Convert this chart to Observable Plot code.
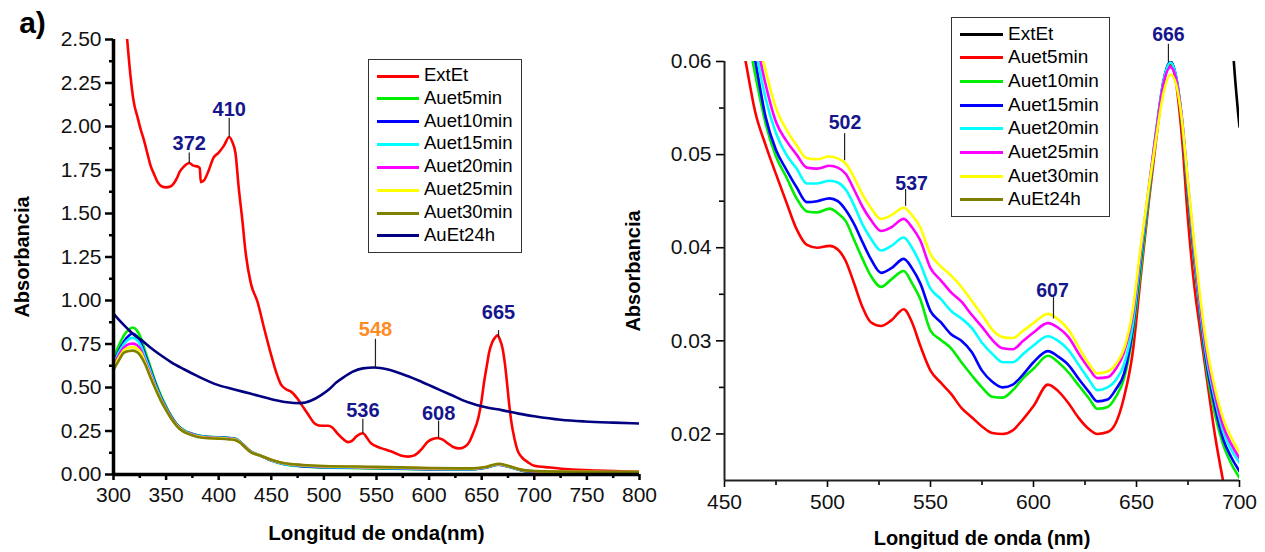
<!DOCTYPE html>
<html>
<head>
<meta charset="utf-8">
<script src="https://cdn.jsdelivr.net/npm/d3@7"></script>
<script src="https://cdn.jsdelivr.net/npm/@observablehq/plot@0.6"></script>
<style>
  body { margin: 0; background: #fff; }
  #wrap { position: relative; width: 1265px; height: 552px; overflow: hidden; font-family: "Liberation Sans", Arial, sans-serif; }
  .panel { position: absolute; top: 0; }
  .legend { position: absolute; border: 1px solid #333; background: #fff; box-sizing: border-box; }
  .legend .row { position: absolute; left: 0; height: 0; }
  .legend .sw { position: absolute; height: 3px; margin-top: -1.5px; }
  .legend .lb { position: absolute; white-space: nowrap; line-height: 1; color: #000; }
</style>
</head>
<body>
<div id="wrap">
  <div id="left" class="panel" style="left:0;width:650px;"></div>
  <div id="right" class="panel" style="left:640px;width:625px;"></div>
</div>
<script>
// ---------------- LEFT PANEL DATA ----------------
const namesL = ["ExtEt", "Auet5min", "Auet10min", "Auet15min", "Auet20min", "Auet25min", "Auet30min", "AuEt24h"];
const colorsL = ["#ff0000", "#00ee00", "#0000ff", "#00ffff", "#ff00ff", "#ffff00", "#808000", "#000080"];

const extEtL = [[309,2.8],[313,2.5],[316,2.3],[319,2.15],[323,2.05],[326,1.98],[329,1.92],[332,1.85],[335,1.78],[339,1.72],[342,1.68],[346,1.655],[350,1.65],[354,1.655],[357,1.67],[360,1.70],[363,1.74],[367,1.77],[372,1.79],[376,1.775],[380,1.77],[382,1.76],[383,1.68],[386,1.69],[390,1.74],[395,1.82],[400,1.85],[405,1.89],[410,1.94],[413,1.91],[416,1.845],[419,1.65],[422.5,1.46],[425.7,1.27],[430.5,1.10],[437,0.99],[443,0.845],[449.5,0.695],[454,0.6],[459,0.52],[464,0.49],[469,0.475],[475,0.435],[480,0.39],[484.5,0.35],[492,0.29],[498,0.28],[504,0.28],[508,0.27],[513,0.235],[518,0.205],[523,0.186],[527,0.195],[531,0.22],[537,0.237],[541,0.21],[544,0.185],[548,0.167],[555,0.15],[561,0.138],[567,0.125],[573,0.109],[580,0.103],[586,0.11],[592,0.14],[599,0.19],[604,0.205],[608,0.21],[613,0.2],[618,0.178],[623,0.158],[629,0.15],[634,0.16],[638,0.185],[642,0.24],[647,0.33],[650,0.43],[652,0.52],[655,0.63],[657,0.70],[660,0.76],[663,0.79],[665,0.80],[667,0.78],[670,0.72],[672,0.64],[674,0.53],[676,0.41],[678,0.31],[681,0.21],[684,0.14],[688,0.10],[694,0.07],[700,0.05],[715,0.04],[732,0.03],[760,0.022],[800,0.015]];

const wlL = [300,305,310,315,318,322,326,330,335,340,345,350,355,360,365,370,380,390,400,410,416,420,425,430,440,450,460,480,500,550,600,640,655,666,675,690,700,750,800];
const auet5L  = [0.67,0.74,0.80,0.835,0.845,0.83,0.785,0.71,0.62,0.53,0.455,0.39,0.335,0.29,0.262,0.245,0.225,0.216,0.214,0.21,0.205,0.19,0.162,0.135,0.108,0.08,0.062,0.046,0.04,0.035,0.03,0.03,0.04,0.056,0.045,0.02,0.015,0.011,0.01];
const auet10L = [0.64,0.71,0.765,0.80,0.81,0.795,0.755,0.69,0.605,0.52,0.445,0.385,0.332,0.288,0.26,0.243,0.224,0.215,0.213,0.209,0.204,0.189,0.161,0.134,0.108,0.081,0.063,0.048,0.042,0.037,0.031,0.031,0.041,0.057,0.046,0.021,0.016,0.012,0.011];
const auet15L = [0.63,0.70,0.75,0.78,0.785,0.775,0.74,0.675,0.595,0.51,0.44,0.38,0.328,0.286,0.258,0.242,0.222,0.214,0.212,0.208,0.203,0.188,0.16,0.133,0.108,0.082,0.064,0.05,0.044,0.039,0.033,0.032,0.042,0.058,0.047,0.022,0.017,0.013,0.012];
const auet20L = [0.62,0.685,0.73,0.75,0.752,0.745,0.715,0.655,0.58,0.5,0.432,0.375,0.325,0.284,0.256,0.24,0.22,0.212,0.21,0.206,0.201,0.186,0.159,0.132,0.108,0.083,0.066,0.052,0.046,0.041,0.035,0.033,0.043,0.059,0.048,0.023,0.018,0.014,0.013];
const auet25L = [0.61,0.67,0.715,0.73,0.732,0.725,0.7,0.645,0.57,0.495,0.428,0.372,0.322,0.282,0.254,0.238,0.218,0.21,0.208,0.204,0.199,0.185,0.158,0.131,0.108,0.084,0.067,0.053,0.047,0.042,0.036,0.034,0.044,0.06,0.049,0.024,0.019,0.015,0.014];
const auet30L = [0.60,0.655,0.70,0.71,0.712,0.705,0.68,0.635,0.56,0.49,0.425,0.37,0.32,0.28,0.252,0.236,0.216,0.208,0.206,0.202,0.197,0.184,0.157,0.13,0.108,0.085,0.068,0.055,0.049,0.044,0.037,0.035,0.045,0.062,0.05,0.025,0.02,0.016,0.015];

const auEt24hL = [[300,0.925],[305,0.89],[313,0.84],[320,0.80],[326,0.775],[335,0.73],[345,0.685],[355,0.645],[367,0.605],[380,0.565],[399,0.515],[414,0.49],[430,0.465],[452,0.43],[465,0.415],[478,0.41],[488,0.425],[497,0.455],[505,0.49],[512,0.53],[519,0.56],[527,0.59],[537,0.61],[548,0.615],[560,0.605],[573,0.58],[590,0.54],[605,0.50],[620,0.46],[637,0.415],[655,0.385],[669,0.37],[685,0.35],[700,0.335],[725,0.315],[748,0.305],[775,0.298],[800,0.293]];

const xTicksL = [300,350,400,450,500,550,600,650,700,750,800];
const xMinorL = [325,375,425,475,525,575,625,675,725,775];
const yTicksL = [0,0.25,0.5,0.75,1,1.25,1.5,1.75,2,2.25,2.5];
const yMinorL = [0.125,0.375,0.625,0.875,1.125,1.375,1.625,1.875,2.125,2.375];

const peaksL = [
  {label:"372", series:"ExtEt",   x:372, y:1.79,  top:1.85, ty:1.90},
  {label:"410", series:"ExtEt",   x:410, y:1.94,  top:2.05, ty:2.10},
  {label:"548", series:"AuEt24h", x:549, y:0.615, top:0.78, ty:0.83},
  {label:"536", series:"ExtEt",   x:537, y:0.237, top:0.32, ty:0.37},
  {label:"608", series:"ExtEt",   x:609, y:0.212, top:0.31, ty:0.35},
  {label:"665", series:"ExtEt",   x:666, y:0.79,  top:0.83, ty:0.93}
];

// ---------------- RIGHT PANEL DATA ----------------
const namesR = ["ExtEt", "Auet5min", "Auet10min", "Auet15min", "Auet20min", "Auet25min", "Auet30min", "AuEt24h"];
const colorsR = ["#000000", "#ff0000", "#00ee00", "#0000ff", "#00ffff", "#ff00ff", "#ffff00", "#808000"];

const wlR = [455,460,465,470,475,480,485,490,495,501,505,509,513,517,521,526,531,537,541,545,550,555,560,565,570,575,580,585,590,595,600,607,612,617,622,627,631,636,640,644,648,652,656,660,663,666.5,669,672,675,678,681,684,688,692,696,700];
const auet5R  = [0.066,0.0603,0.0545,0.0510,0.0479,0.0449,0.0420,0.0403,0.0400,0.0402,0.0398,0.0385,0.0361,0.0336,0.0320,0.0316,0.0322,0.0334,0.0320,0.0295,0.0268,0.0255,0.0243,0.0228,0.0218,0.0208,0.0201,0.0200,0.0204,0.0216,0.0230,0.0253,0.0246,0.0233,0.0217,0.0205,0.0200,0.0202,0.0212,0.0240,0.0285,0.0368,0.0450,0.0525,0.0575,0.0597,0.0580,0.0520,0.0430,0.0360,0.0310,0.0262,0.0200,0.0150,0.0105,0.0080];
const auet10R = [0.070,0.0645,0.0585,0.0533,0.0498,0.0476,0.0453,0.0439,0.0438,0.0442,0.0437,0.0428,0.0408,0.0388,0.0370,0.0358,0.0366,0.0375,0.0362,0.0345,0.0311,0.0301,0.0292,0.0277,0.0263,0.0250,0.0240,0.0239,0.0247,0.0260,0.0270,0.0284,0.0277,0.0266,0.0252,0.0238,0.0227,0.0229,0.0240,0.0260,0.0305,0.0375,0.0455,0.0530,0.0577,0.0600,0.0585,0.0535,0.0455,0.0385,0.0325,0.0270,0.0222,0.0189,0.0168,0.0153];
const auet15R = [0.072,0.066,0.0600,0.0540,0.0505,0.0484,0.0465,0.0449,0.0450,0.0453,0.0450,0.0440,0.0425,0.0406,0.0388,0.0373,0.0378,0.0388,0.0378,0.0362,0.0332,0.0320,0.0307,0.0300,0.0288,0.0268,0.0256,0.0250,0.0253,0.0264,0.0277,0.0289,0.0283,0.0274,0.0259,0.0245,0.0235,0.0237,0.0248,0.0265,0.0310,0.0385,0.0460,0.0532,0.0578,0.0600,0.0586,0.0538,0.0460,0.0390,0.0328,0.0276,0.0230,0.0195,0.0175,0.0160];
const auet20R = [0.074,0.068,0.0615,0.0560,0.0523,0.0500,0.0485,0.0469,0.0469,0.0472,0.0470,0.0462,0.0445,0.0425,0.0410,0.0397,0.0402,0.0411,0.0400,0.0383,0.0356,0.0345,0.0332,0.0324,0.0314,0.0298,0.0286,0.0277,0.0277,0.0286,0.0295,0.0305,0.0300,0.0290,0.0274,0.0258,0.0247,0.0250,0.0258,0.0275,0.0315,0.0390,0.0462,0.0534,0.0578,0.0599,0.0586,0.0540,0.0465,0.0395,0.0332,0.0282,0.0238,0.0203,0.0183,0.0169];
const auet25R = [0.075,0.069,0.0628,0.0575,0.0535,0.0515,0.0500,0.0486,0.0485,0.0488,0.0486,0.0479,0.0462,0.0444,0.0430,0.0418,0.0422,0.0431,0.0422,0.0408,0.0378,0.0365,0.0352,0.0342,0.0328,0.0315,0.0301,0.0292,0.0291,0.0300,0.0309,0.0319,0.0314,0.0304,0.0286,0.0270,0.0260,0.0261,0.0270,0.0288,0.0325,0.0395,0.0465,0.0532,0.0575,0.0594,0.0583,0.0540,0.0468,0.0400,0.0338,0.0288,0.0243,0.0209,0.0189,0.0174];
const auet30R = [0.076,0.070,0.0640,0.0590,0.0550,0.0527,0.0510,0.0496,0.0495,0.0498,0.0496,0.0490,0.0475,0.0457,0.0443,0.0431,0.0435,0.0443,0.0435,0.0422,0.0393,0.0380,0.0370,0.0358,0.0343,0.0328,0.0312,0.0304,0.0303,0.0311,0.0319,0.0329,0.0323,0.0312,0.0293,0.0275,0.0265,0.0267,0.0275,0.0292,0.0330,0.0400,0.0465,0.0525,0.0565,0.0586,0.0577,0.0538,0.0470,0.0405,0.0345,0.0295,0.0250,0.0217,0.0196,0.0180];
const extEtR = [[696.5,0.0625],[697.3,0.0598],[698.5,0.0565],[699.3,0.0545],[700,0.0530]];

const xTicksR = [450,500,550,600,650,700];
const xMinorR = [475,525,575,625,675];
const yTicksR = [0.02,0.03,0.04,0.05,0.06];
const yMinorR = [0.025,0.035,0.045,0.055];

const peaksR = [
  {label:"502", x:508.3, y:0.0494, top:0.0523, tx:508.5, ty:0.0534},
  {label:"537", x:537.9, y:0.0445, top:0.0463, tx:540.8, ty:0.0469},
  {label:"607", x:609.7, y:0.0324, top:0.0347, tx:609.2, ty:0.0354},
  {label:"666", x:665.5, y:0.0599, top:0.0619, tx:665.5, ty:0.0629}
];

// ---------------- BUILD ----------------
const font = '"Liberation Sans", Arial, sans-serif';
const zip = (xs, ys) => xs.map((x, i) => [x, ys[i]]);
const seriesL = [extEtL, zip(wlL, auet5L), zip(wlL, auet10L), zip(wlL, auet15L), zip(wlL, auet20L), zip(wlL, auet25L), zip(wlL, auet30L), auEt24hL];
const seriesR = [extEtR, zip(wlR, auet5R), zip(wlR, auet10R), zip(wlR, auet15R), zip(wlR, auet20R), zip(wlR, auet25R), zip(wlR, auet30R)];
const labelColor = {ExtEt: "#16168c", AuEt24h: "#ff8a1f"};

const leftPlot = Plot.plot({
  width: 650, height: 552,
  marginLeft: 113, marginRight: 11, marginTop: 39, marginBottom: 78,
  x: {domain: [300, 800]},
  y: {domain: [0, 2.5]},
  style: {fontFamily: font, background: "transparent", overflow: "visible"},
  marks: [
    ...seriesL.map((d, i) => Plot.line(d, {x: d => d[0], y: d => d[1], stroke: colorsL[i], strokeWidth: 2.6, curve: "monotone-x", clip: true})),
    Plot.link(peaksL, {x1: "x", x2: "x", y1: "y", y2: "top", stroke: "#222", strokeWidth: 1.2}),
    ...Object.keys(labelColor).map(s => Plot.text(peaksL.filter(p => p.series === s), {x: "x", y: "ty", text: "label", fill: labelColor[s], fontSize: 20, fontWeight: "bold", textAnchor: "middle", lineAnchor: "middle"})),
    Plot.axisX(xTicksL, {tickSize: 6, tickPadding: 7, strokeWidth: 2.5, fontSize: 21, fill: "#111", tickFormat: d => String(d), label: null}),
    Plot.axisX(xMinorL, {tickSize: 4, strokeWidth: 2.5, tickFormat: () => "", label: null}),
    Plot.axisY(yTicksL, {tickSize: 8, tickPadding: 4, strokeWidth: 2.5, fontSize: 21, fill: "#111", tickFormat: d3.format(".2f"), label: null}),
    Plot.axisY(yMinorL, {tickSize: 4, strokeWidth: 2.5, tickFormat: () => "", label: null}),
    Plot.ruleX([300], {strokeWidth: 3.5}),
    Plot.ruleY([0], {strokeWidth: 3.5}),
    Plot.text(["Absorbancia"], {text: d => d, frameAnchor: "left", rotate: -90, dx: -91, fontSize: 20, fontWeight: "bold", textAnchor: "middle", lineAnchor: "middle"}),
    Plot.text(["Longitud de onda(nm)"], {text: d => d, frameAnchor: "bottom", dy: 59, fontSize: 20.5, fontWeight: "bold", textAnchor: "middle", lineAnchor: "middle"}),
    Plot.text(["a)"], {text: d => d, frameAnchor: "top-left", dx: -81, dy: -16, fontSize: 30, fontWeight: "bold", textAnchor: "middle", lineAnchor: "middle"})
  ]
});
document.getElementById("left").appendChild(leftPlot);

const rightPlot = Plot.plot({
  width: 625, height: 552,
  marginLeft: 84, marginRight: 26, marginTop: 61, marginBottom: 72,
  x: {domain: [450, 700]},
  y: {domain: [0.015, 0.06]},
  style: {fontFamily: font, background: "transparent", overflow: "visible"},
  marks: [
    ...seriesR.map((d, i) => Plot.line(d, {x: d => d[0], y: d => d[1], stroke: colorsR[i], strokeWidth: 2.6, curve: "monotone-x", clip: true})),
    Plot.link(peaksR, {x1: "x", x2: "x", y1: "y", y2: "top", stroke: "#222", strokeWidth: 1.2}),
    Plot.text(peaksR, {x: "tx", y: "ty", text: "label", fill: "#16168c", fontSize: 19.5, fontWeight: "bold", textAnchor: "middle", lineAnchor: "middle"}),
    Plot.axisX(xTicksR, {tickSize: 7, tickPadding: 7, strokeWidth: 1.6, fontSize: 21, fill: "#111", tickFormat: d => String(d), label: null}),
    Plot.axisX(xMinorR, {tickSize: 5, strokeWidth: 1.6, tickFormat: () => "", label: null}),
    Plot.axisY(yTicksR, {tickSize: 8, tickPadding: 5, strokeWidth: 1.6, fontSize: 21, fill: "#111", tickFormat: d3.format(".2f"), label: null}),
    Plot.axisY(yMinorR, {tickSize: 5, strokeWidth: 1.6, tickFormat: () => "", label: null}),
    Plot.ruleX([450], {strokeWidth: 2, stroke: "#222"}),
    Plot.ruleY([0.015], {strokeWidth: 2, stroke: "#222"}),
    Plot.text(["Absorbancia"], {text: d => d, frameAnchor: "left", rotate: -90, dx: -91, fontSize: 20, fontWeight: "bold", textAnchor: "middle", lineAnchor: "middle"}),
    Plot.text(["Longitud de onda (nm)"], {text: d => d, frameAnchor: "bottom", dy: 58, fontSize: 20, fontWeight: "bold", textAnchor: "middle", lineAnchor: "middle"})
  ]
});
document.getElementById("right").appendChild(rightPlot);

// ---------------- LEGENDS ----------------
function addLegend(names, colors, box) {
  const div = document.createElement("div");
  div.className = "legend";
  Object.assign(div.style, {left: box.left + "px", top: box.top + "px", width: box.width + "px", height: box.height + "px"});
  names.forEach((name, i) => {
    const row = document.createElement("div");
    row.className = "row";
    row.style.top = (box.first + i * box.step) + "px";
    const sw = document.createElement("div");
    sw.className = "sw";
    Object.assign(sw.style, {left: box.swX + "px", width: box.swW + "px", background: colors[i]});
    const lb = document.createElement("div");
    lb.className = "lb";
    Object.assign(lb.style, {left: box.textX + "px", fontSize: box.fontSize + "px", top: (-box.fontSize * 0.55) + "px"});
    lb.textContent = name;
    row.appendChild(sw); row.appendChild(lb);
    div.appendChild(row);
  });
  document.getElementById("wrap").appendChild(div);
}
addLegend(namesL, colorsL, {left: 368, top: 59, width: 154, height: 194, first: 16, step: 22.85, swX: 8, swW: 42, textX: 55, fontSize: 18.5});
addLegend(namesR, colorsR, {left: 951, top: 17, width: 159, height: 200, first: 16, step: 23.7, swX: 8, swW: 43, textX: 56, fontSize: 19});
</script>
</body>
</html>
